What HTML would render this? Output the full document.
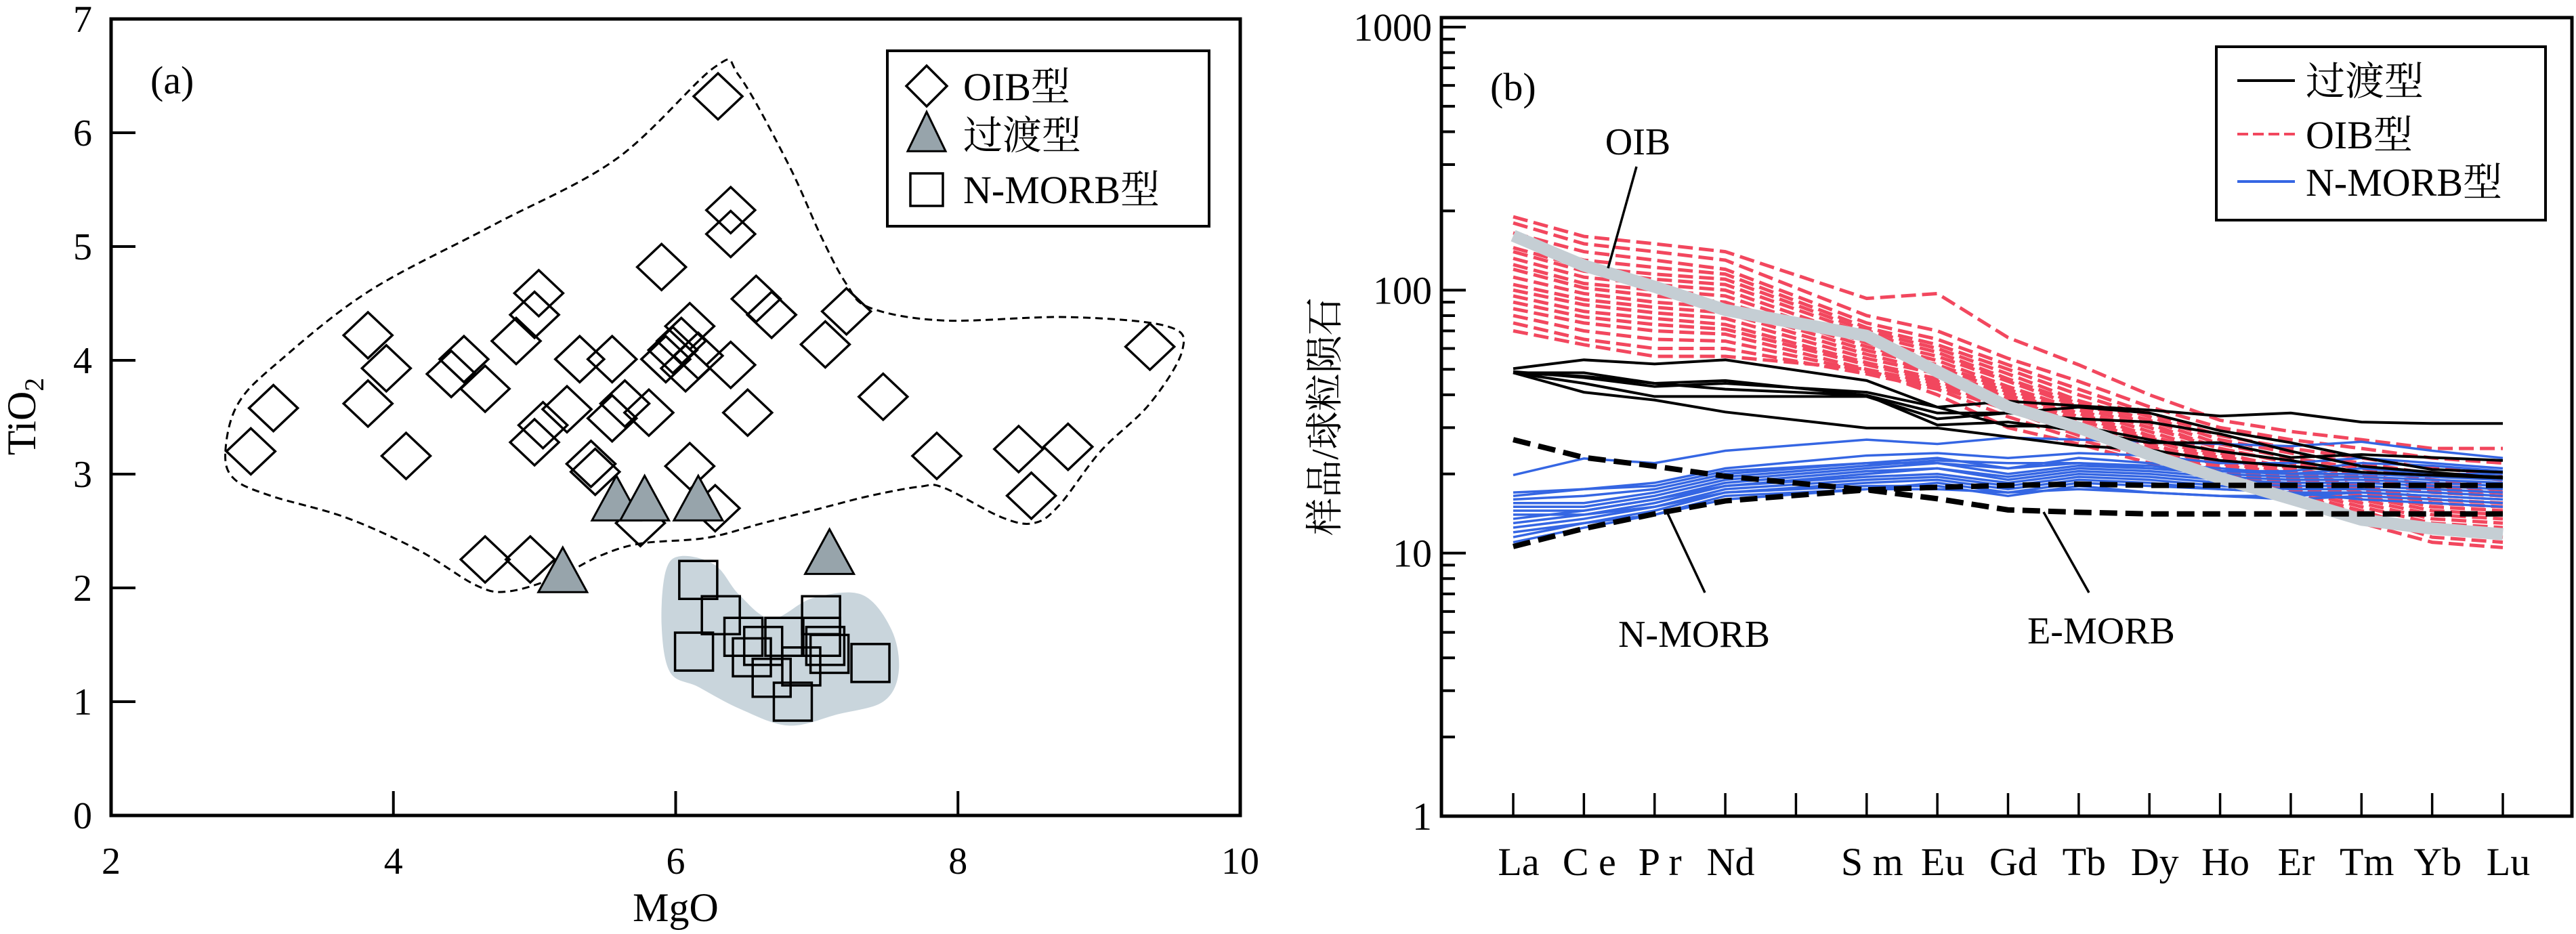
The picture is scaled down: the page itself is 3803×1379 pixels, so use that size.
<!DOCTYPE html>
<html><head><meta charset="utf-8"><style>
html,body{margin:0;padding:0;background:#fff;}
svg{display:block;font-family:"Liberation Serif","Noto Serif CJK SC",serif;}
</style></head><body>
<svg id="fig" width="3803" height="1379" viewBox="0 0 3803 1379" xmlns="http://www.w3.org/2000/svg">
<g id="pa"></g>
<g id="pb"></g>
</svg>
<script>
// ---------- Panel A data ----------
const oibMgO = [2.99,3.15,3.82,3.95,3.82,4.09,4.41,4.50,4.65,4.87,5.03,5.00,5.06,5.00,5.23,5.32,5.55,5.55,5.64,5.81,5.90,5.93,6.10,6.04,6.07,6.39,6.39,6.39,6.57,6.68,6.51,7.06,7.21,7.47,7.85,8.43,8.78,8.52,9.36,6.30,5.40,5.43,5.75,6.10,6.28,4.65,4.97,5.98,6.16];
const oibTiO2 = [3.20,3.58,4.22,3.93,3.62,3.16,3.88,4.01,3.75,4.17,4.59,4.40,3.43,3.28,3.57,4.01,4.01,3.49,3.62,3.54,4.82,4.01,4.30,4.17,3.93,5.32,5.11,3.96,4.54,4.40,3.54,4.14,4.43,3.68,3.16,3.22,3.24,2.81,4.12,6.32,3.09,3.02,2.57,3.07,2.70,2.25,2.25,4.09,4.04];
const transMgO = [5.58,5.78,6.16,5.20,7.09];
const transTiO2 = [2.75,2.75,2.75,2.12,2.28];
const nmorbMgO = [6.16,6.32,6.13,6.48,6.77,6.54,6.68,6.83,6.89,7.03,7.03,7.06,7.09,7.38,6.62];
const nmorbTiO2 = [2.07,1.76,1.44,1.57,1.57,1.39,1.21,1.00,1.31,1.76,1.57,1.49,1.42,1.34,1.49];
const envX = [2.81,2.90,3.19,3.83,4.71,5.58,6.28,6.45,6.80,7.03,7.21,7.38,7.90,8.78,9.48,9.59,9.36,9.01,8.72,8.54,8.31,7.90,7.73,7.38,7.03,6.62,6.22,5.75,5.46,5.17,4.82,4.59,4.18,3.66,3.13,2.87];
const envY = [3.20,3.62,3.99,4.61,5.19,5.77,6.58,6.50,5.72,5.09,4.67,4.46,4.35,4.38,4.30,4.09,3.62,3.20,2.73,2.57,2.62,2.88,2.89,2.81,2.70,2.57,2.44,2.39,2.28,2.10,1.97,2.02,2.33,2.62,2.81,2.96];
const blobX = [6.04,6.28,6.45,6.68,6.97,7.32,7.53,7.58,7.47,7.15,6.80,6.45,6.16,5.96,5.90,5.93];
const blobY = [2.28,2.20,1.94,1.73,1.91,1.94,1.63,1.26,1.00,0.89,0.79,0.94,1.13,1.26,1.68,2.15];
const xTicksA = [2,4,6,8,10];
const yTicksA = [0,1,2,3,4,5,6,7];

// ---------- Panel B data ----------
const ree = ["La","Ce","Pr","Nd","Pm","Sm","Eu","Gd","Tb","Dy","Ho","Er","Tm","Yb","Lu"];
const reeLabels = ["La","C e","P r","Nd","","S m","Eu","Gd","Tb","Dy","Ho","Er","Tm","Yb","Lu"];
const plotted = ["La","Ce","Pr","Nd","Sm","Eu","Gd","Tb","Dy","Ho","Er","Tm","Yb","Lu"];
const yTicksB = [1,10,100,1000];
const refOIB = [161,124,103,84,67,49,36,30,23.7,19.3,16.1,13.4,12.4,11.8];
const refNMORB = [10.6,12.4,14.1,15.8,17.4,17.8,18.1,18.3,18.1,18.1,18.1,18.1,18.1,18.1];
const refEMORB = [27.0,23.1,21.4,19.6,17.4,16.1,14.6,14.3,14.1,14.1,14.1,14.1,14.1,14.1];
const trans1 = [50.3,54.3,52.4,54.3,45.3,35.9,37.8,36.3,35.0,33.2,34.1,31.5,31.1,31.1];
const trans2 = [48.5,48.5,44.2,45.3,39.8,34.1,34.1,35.9,34.1,29.2,26.3,23.1,20.8,20.3];
const trans3 = [48.5,40.9,38.2,34.4,29.9,29.9,27.7,25.6,24.7,22.5,21.4,20.3,19.8,19.3];
const trans4 = [48.5,44.2,39.4,39.4,39.4,32.4,34.1,32.4,31.5,28.4,24.4,21.4,20.3,19.3];
const trans5 = [49.0,46.5,43.0,44.2,40.9,35.9,30.4,30.4,27.0,24.4,22.5,20.3,19.8,19.5];
const trans6 = [48.5,47.0,44.2,42.0,39.8,30.7,31.5,29.2,26.3,26.3,23.1,23.7,23.1,22.5];
const transSeries = [trans1,trans2,trans3,trans4,trans5,trans6];
const nm1 = [19.8,22.9,22,24.5,27,26,27.5,27,26.5,26,25.5,26.5,24.5,23];
const nm2 = [16.5,17.5,18.5,21,23.5,24,23,24,23.5,22,22,23,22,21];
const nm3 = [16,16.5,17.5,20,22,23,21,23,22,21,20,21,20,20];
const nm4 = [15.5,15.5,17,19.5,21.5,22.5,22,22,21.5,20.5,20,20,19.5,19];
const nm5 = [15,15,16.5,19,21,22,20,21.5,21,20,19.5,19.5,19,18.5];
const nm6 = [14.5,14.5,16,18.5,20.5,21,19.5,21,20.5,19.5,19,19,18.5,18];
const nm7 = [14,14,15.5,18,20,21,19,20.5,20,19,18.5,18.5,18,17.5];
const nm8 = [13.5,14.5,16,18,19.5,20,18.5,20,19.5,18.5,18,18,17.5,17];
const nm9 = [13,14,15,17.5,19,19.5,18,19.5,19,18,17.5,17.5,17,16.5];
const nm10 = [12.5,13.5,15,17,18.5,19,17.5,19,18.5,17.5,17,17,16.5,16];
const nm11 = [12,13,14.5,17,18,18,16.5,18,17,16.5,16,16.5,16,15.5];
const nm12 = [11.5,13,14,16.5,17.5,18.5,17,18.5,18,17.5,17,16,15.5,15];
const nm13 = [11,12.5,14,16,17.5,17.5,17,17.5,17,16.5,16.5,17,16.5,16];
const nm14 = [17,17.5,18,20.5,22,22,21,22,21,20.5,20.5,22,21.5,20.5];
const nmSeries = [nm1,nm2,nm3,nm4,nm5,nm6,nm7,nm8,nm9,nm10,nm11,nm12,nm13,nm14];
const o1 = [190,160,150,140,93,97,66,52,40,32,29,27,25,25];
const o2 = [180,150,140,130,80,70,55,45,36,30,27,25,23,22];
const o3 = [165,140,130,120,75,65,52,42,34,28,25,23,21,20];
const o4 = [155,130,122,115,72,62,50,40,33,27,24,22,20,19];
const o5 = [145,122,115,110,70,60,48,38,32,26,23,21,19,18];
const o6 = [140,118,110,105,68,58,46,37,31,25,22,20,18,17.5];
const o7 = [132,112,105,100,65,56,45,36,30,25,22,19.5,17.5,17];
const o8 = [125,106,100,95,63,54,43,35,29,24,21,19,17,16.5];
const o9 = [120,102,95,90,61,52,42,34,28,23.5,20.5,18,16,15.5];
const o10 = [112,97,90,86,59,51,41,33,27.5,23,20,17.5,15.5,15];
const o11 = [105,92,86,82,57,49,40,32,27,22.5,19.5,17,15,14.5];
const o12 = [100,88,82,78,55,48,39,31,26,22,19,16.5,14.5,14];
const o13 = [95,83,78,74,53,46,38,30,25.5,21.5,18.5,16,14,13.5];
const o14 = [90,79,74,71,52,45,37,29.5,25,21,18,15.5,13.5,13];
const o15 = [85,75,70,68,50,44,36,29,24.5,20.5,17.5,15,13,12.5];
const o16 = [80,70,65,64,49,43,35,28,24,20,17,14.5,12,11.5];
const o17 = [75,65,60,60,48,42,33,27,23,19.5,17,14,11.5,11];
const o18 = [70,62,56,56,50,40,30,26,22,19.5,16.5,13,11,10.5];
const oibSeries = [o1,o2,o3,o4,o5,o6,o7,o8,o9,o10,o11,o12,o13,o14,o15,o16,o17,o18];

const NS = "http://www.w3.org/2000/svg";
function mk(parent, tag, attrs, text){
  const e = document.createElementNS(NS, tag);
  for (const k in attrs) e.setAttribute(k, attrs[k]);
  if (text !== undefined) e.textContent = text;
  parent.appendChild(e);
  return e;
}

// ================= PANEL A =================
const A = {l:164, r:1831, t:28, b:1204, x0:2, x1:10, y0:0, y1:7};
const ax = v => A.l + (v - A.x0) / (A.x1 - A.x0) * (A.r - A.l);
const ay = v => A.b - (v - A.y0) / (A.y1 - A.y0) * (A.b - A.t);
const pa = document.getElementById('pa');

function smoothPath(xs, ys){
  const P = xs.map((x,i)=>[ax(x), ay(ys[i])]);
  const n = P.length;
  let d = `M${P[0][0]},${P[0][1]}`;
  for (let i=0;i<n;i++){
    const p0=P[(i-1+n)%n], p1=P[i], p2=P[(i+1)%n], p3=P[(i+2)%n];
    const c1=[p1[0]+(p2[0]-p0[0])/6, p1[1]+(p2[1]-p0[1])/6];
    const c2=[p2[0]-(p3[0]-p1[0])/6, p2[1]-(p3[1]-p1[1])/6];
    d += ` C${c1[0]},${c1[1]} ${c2[0]},${c2[1]} ${p2[0]},${p2[1]}`;
  }
  return d + 'Z';
}
let e;
e = mk(pa,'path',{d:smoothPath(blobX,blobY),fill:'#c9d5dc',stroke:'none'});


e = mk(pa,'path',{d:smoothPath(envX,envY),fill:'none',stroke:'#000','stroke-width':3,'stroke-dasharray':'11 7'});



function diamond(g,cx,cy,w,h){ return mk(g,'path',{d:`M${cx-w},${cy} L${cx},${cy-h} L${cx+w},${cy} L${cx},${cy+h}Z`,fill:'none',stroke:'#000','stroke-width':3.5}); }
function square(g,cx,cy,s){ return mk(g,'rect',{x:cx-s/2,y:cy-s/2,width:s,height:s,fill:'none',stroke:'#000','stroke-width':3.5}); }
function tri(g,cx,cy,w,h){ return mk(g,'path',{d:`M${cx},${cy-h*0.6} L${cx+w/2},${cy+h*0.4} L${cx-w/2},${cy+h*0.4}Z`,fill:'#97a4ab',stroke:'#000','stroke-width':3}); }

const gO = mk(pa,'g',{});


oibMgO.forEach((x,i)=>{
  const d = diamond(gO, ax(x), ay(oibTiO2[i]), 36, 34);
  
  
});
const gN = mk(pa,'g',{});


nmorbMgO.forEach((x,i)=>{
  const s = square(gN, ax(x), ay(nmorbTiO2[i]), 56);
  
  
});
const gT = mk(pa,'g',{});


transMgO.forEach((x,i)=>{
  const t = tri(gT, ax(x), ay(transTiO2[i]), 72, 66);
  
  
});

// axes A
e = mk(pa,'rect',{x:A.l,y:A.t,width:A.r-A.l,height:A.b-A.t,fill:'none',stroke:'#000','stroke-width':5});


const fs = 56;
xTicksA.forEach(v=>{
  if (v>A.x0 && v<A.x1) mk(pa,'line',{x1:ax(v),x2:ax(v),y1:A.b,y2:A.b-36,stroke:'#000','stroke-width':4});
  const t = mk(pa,'text',{x:ax(v),y:1290,'font-size':fs,'text-anchor':'middle'}, String(v));
  
  
});
yTicksA.forEach(v=>{
  if (v>A.y0 && v<A.y1) mk(pa,'line',{x1:A.l,x2:A.l+36,y1:ay(v),y2:ay(v),stroke:'#000','stroke-width':4});
  const t = mk(pa,'text',{x:A.l-28,y:ay(v)+19,'font-size':fs,'text-anchor':'end'}, String(v));
  
  
});
e = mk(pa,'text',{x:ax(6),y:1360,'font-size':60,'text-anchor':'middle'},'MgO');


e = mk(pa,'text',{transform:'translate(52,615) rotate(-90)','font-size':60,'text-anchor':'middle'});
e.innerHTML = 'TiO<tspan font-size="40" dy="12">2</tspan>';


e = mk(pa,'text',{x:222,y:138,'font-size':58},'(a)');


// legend A
const lgA = mk(pa,'g',{});


mk(lgA,'rect',{x:1310,y:75,width:475,height:259,fill:'#fff',stroke:'#000','stroke-width':4});
diamond(lgA,1368,127,30,30);
tri(lgA,1368,200,56,58);
square(lgA,1368,280,48);
[['OIB型',148],['过渡型',220],['N-MORB型',300]].forEach(([s,y])=>{
  const t = mk(lgA,'text',{x:1422,y:y,'font-size':58}, s);
  
  
});

// ================= PANEL B =================
const B = {l:2128, r:3797, t:26, b:1205, ylo:1, yhi:1000, ytop:40};
const bx = i => 2234 + i * (3695 - 2234) / 14;
const by = v => B.b - Math.log10(v) / 3 * (B.b - B.ytop);
const pb = document.getElementById('pb');
const catX = name => bx(ree.indexOf(name));
function linePath(vals){
  return vals.map((v,i)=>(i?'L':'M')+catX(plotted[i])+','+by(v)).join(' ');
}
const gR = mk(pb,'g',{fill:'none',stroke:'#f2475e','stroke-width':5,'stroke-dasharray':'22 9'});


oibSeries.forEach(s=>{ const p=mk(gR,'path',{d:linePath(s)});
  
   });
const gB = mk(pb,'g',{fill:'none',stroke:'#3566e3','stroke-width':3.5});


nmSeries.forEach(s=>{ const p=mk(gB,'path',{d:linePath(s)});
  
   });
const gK = mk(pb,'g',{fill:'none',stroke:'#000','stroke-width':4});


transSeries.forEach(s=>{ const p=mk(gK,'path',{d:linePath(s)});
  
   });
e = mk(pb,'path',{d:linePath(refOIB),fill:'none',stroke:'#c5ced4','stroke-width':18,'stroke-linejoin':'round'});


e = mk(pb,'path',{d:linePath(refNMORB),fill:'none',stroke:'#000','stroke-width':8,'stroke-dasharray':'26 12'});


e = mk(pb,'path',{d:linePath(refEMORB),fill:'none',stroke:'#000','stroke-width':8,'stroke-dasharray':'26 12'});



// annotations
[['OIB',2418,228,2416,246,2374,396],['N-MORB',2501,955,2517,875,2461,756],['E-MORB',3102,950,3084,875,3017,756]].forEach(([s,tx,ty,x1,y1,x2,y2])=>{
  const t = mk(pb,'text',{x:tx,y:ty,'font-size':56,'text-anchor':'middle'}, s);
  
  
  const l = mk(pb,'line',{x1:x1,y1:y1,x2:x2,y2:y2,stroke:'#000','stroke-width':3.5});
  
  
});

// axes B
e = mk(pb,'rect',{x:B.l,y:B.t,width:B.r-B.l,height:B.b-B.t,fill:'none',stroke:'#000','stroke-width':5});


yTicksB.forEach(v=>{
  mk(pb,'line',{x1:B.l,x2:B.l+36,y1:by(v),y2:by(v),stroke:'#000','stroke-width':4});
  const t = mk(pb,'text',{x:B.l-14,y:by(v)+20,'font-size':58,'text-anchor':'end'}, String(v));
  
  
  if (v<1000) for (let m=2;m<=9;m++) mk(pb,'line',{x1:B.l,x2:B.l+20,y1:by(v*m),y2:by(v*m),stroke:'#000','stroke-width':4});
});
ree.forEach((r,i)=>{
  mk(pb,'line',{x1:bx(i),x2:bx(i),y1:B.b,y2:B.b-34,stroke:'#000','stroke-width':3.5});
  const t = mk(pb,'text',{x:bx(i)+8,y:1292,'font-size':58,'text-anchor':'middle'}, reeLabels[i]);
  
  
});
e = mk(pb,'text',{transform:'translate(1975,615) rotate(-90)','font-size':56,'text-anchor':'middle'},'样品/球粒陨石');


e = mk(pb,'text',{x:2200,y:148,'font-size':58},'(b)');


// legend B
const lgB = mk(pb,'g',{});


mk(lgB,'rect',{x:3272,y:69,width:486,height:256,fill:'#fff',stroke:'#000','stroke-width':4});
mk(lgB,'line',{x1:3303,x2:3388,y1:119,y2:119,stroke:'#000','stroke-width':4});
mk(lgB,'line',{x1:3303,x2:3388,y1:198,y2:198,stroke:'#f2475e','stroke-width':4,'stroke-dasharray':'16 7'});
mk(lgB,'line',{x1:3303,x2:3388,y1:268,y2:268,stroke:'#3566e3','stroke-width':4});
[['过渡型',140],['OIB型',219],['N-MORB型',289]].forEach(([s,y])=>{
  const t = mk(lgB,'text',{x:3404,y:y,'font-size':58}, s);
  
  
});
</script>
</body></html>
